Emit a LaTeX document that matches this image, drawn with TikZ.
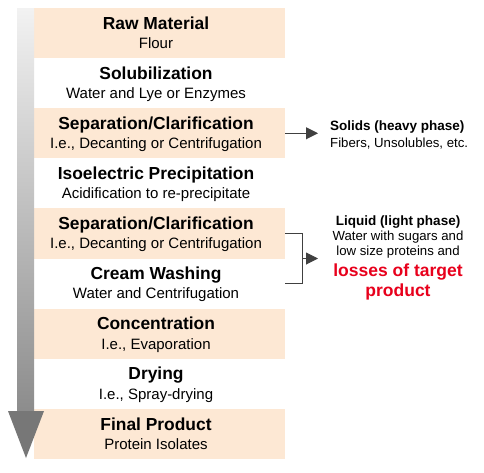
\documentclass[tikz,border=0pt]{standalone}
\usepackage{fontspec}
\setmainfont{Liberation Sans}
\usetikzlibrary{arrows.meta}
\definecolor{peach}{HTML}{FDE8D4}
\definecolor{lossred}{HTML}{E8001C}
\definecolor{conn}{HTML}{404040}
\definecolor{headgray}{HTML}{777777}
\tikzset{
  band/.style={rectangle, draw=none, minimum width=251pt, minimum height=50.1pt, inner sep=0pt},
  peachband/.style={band, fill=peach},
  whiteband/.style={band, fill=white},
  ttl/.style={anchor=base, inner sep=0pt, font=\fontsize{17.4}{19}\selectfont\bfseries},
  sub/.style={anchor=base, inner sep=0pt, font=\fontsize{15}{17}\selectfont},
  sidettl/.style={inner sep=0pt, font=\fontsize{13.5}{15}\selectfont\bfseries},
  sidesub/.style={inner sep=0pt, font=\fontsize{13.2}{15}\selectfont},
  conline/.style={draw=conn, line width=1pt},
  conarrow/.style={conline, -{Triangle[length=12pt,width=12pt]}},
}
\begin{document}
\begin{tikzpicture}[x=1pt,y=-1pt]
\useasboundingbox (0,0) rectangle (484,472);
\fill[white] (0,0) rectangle (484,472);
% bands
\node[peachband] (b1) at (159.5,33.05) {};
\node[whiteband] (b2) at (159.5,83.15) {};
\node[peachband] (b3) at (159.5,133.25) {};
\node[whiteband] (b4) at (159.5,183.35) {};
\node[peachband] (b5) at (159.5,233.45) {};
\node[whiteband] (b6) at (159.5,283.55) {};
\node[peachband] (b7) at (159.5,333.65) {};
\node[whiteband] (b8) at (159.5,383.75) {};
\node[peachband] (b9) at (159.5,433.85) {};
% texts
\foreach \b/\t/\s in {b1/Raw Material/Flour,
  b2/Solubilization/Water and Lye or Enzymes,
  b3/Separation\slash Clarification/{I.e., Decanting or Centrifugation},
  b4/Isoelectric Precipitation/Acidification to re-precipitate,
  b5/Separation\slash Clarification/{I.e., Decanting or Centrifugation},
  b6/Cream Washing/Water and Centrifugation,
  b7/Concentration/{I.e., Evaporation},
  b8/Drying/{I.e., Spray-drying},
  b9/Final Product/Protein Isolates}{
  \node[ttl] (\b t) at ([xshift=-3.5pt,yshift=3.8pt]\b.center) {\t};
  \node[sub] (\b s) at ([xshift=-3.5pt,yshift=-15.4pt]\b.center) {\s};
}
% big gradient arrow
\shade[top color=black!5, bottom color=black!45]
  (17,8) rectangle (34,411.5);
\fill[headgray] (8,411) -- (44,411) -- (26,458) -- cycle;
% solids
\node[sidettl, anchor=base west] (sol) at (330,130) {Solids (heavy phase)};
\node[sidesub, anchor=base west] (fib) at (330,147) {Fibers, Unsolubles, etc.};
\coordinate (solin) at (318,133.25);
\draw[conarrow] (b3.east) -- (solin);
% liquid
\node[sidettl, anchor=base] (liq) at (398,225) {Liquid (light phase)};
\node[sidesub, anchor=base] (liq2) at (398,240) {Water with sugars and};
\node[sidesub, anchor=base] (liq3) at (398,255.5) {low size proteins and};
\node[anchor=base, inner sep=0pt, font=\fontsize{17.5}{19}\selectfont\bfseries, text=lossred] (loss1) at (398,276.5) {losses of target};
\node[anchor=base, inner sep=0pt, font=\fontsize{17.5}{19}\selectfont\bfseries, text=lossred] (loss2) at (398,296) {product};
\coordinate (brt) at (302,233.45);
\coordinate (brb) at (302,283.55);
\coordinate (brm) at (302,258.5);
\coordinate (liqin) at (318,258.5);
\draw[conline] (b5.east) -- (brt) -- (brb) -- (b6.east);
\draw[conarrow] (brm) -- (liqin);
\end{tikzpicture}
\end{document}
